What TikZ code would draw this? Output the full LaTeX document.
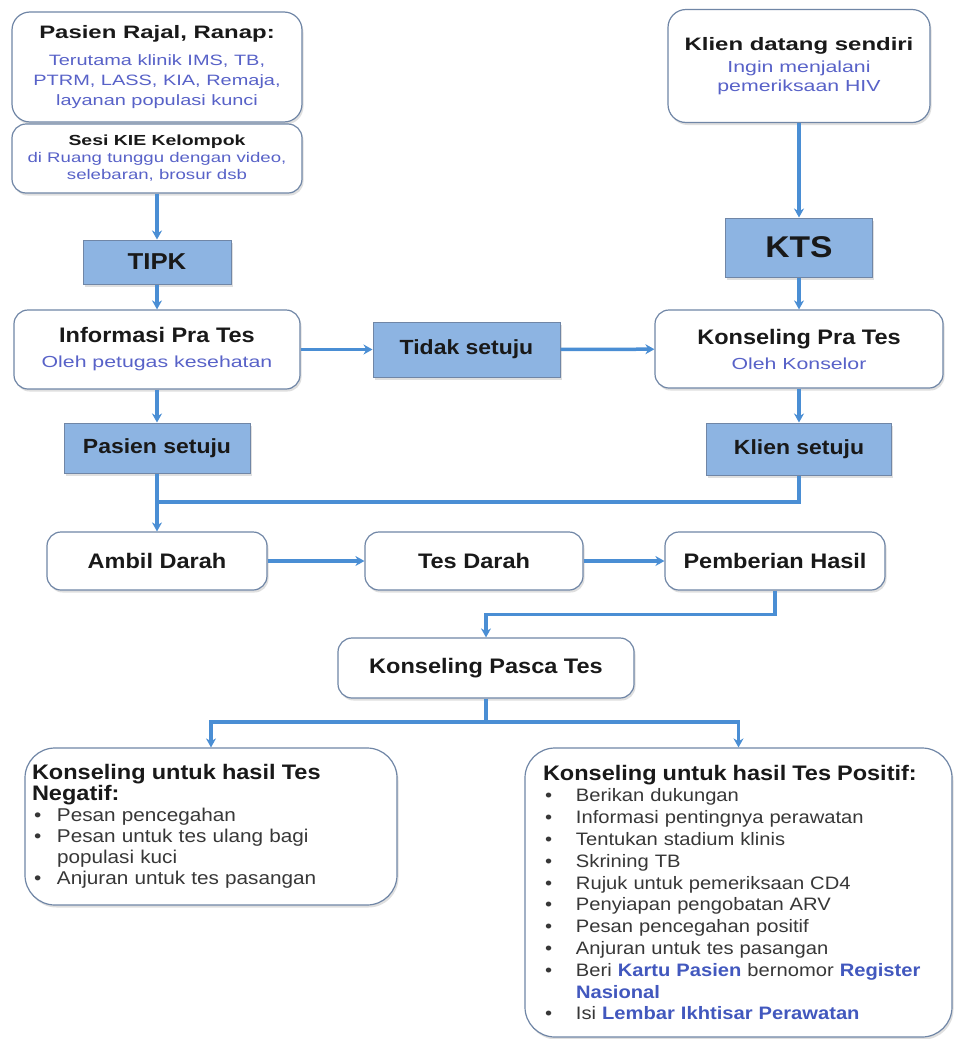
\documentclass[tikz,border=0pt]{standalone}
\usepackage{fontspec}
\setmainfont{Liberation Sans}[FakeStretch=1.12]
\newfontfamily\widefont{Liberation Sans}[FakeStretch=1.33]
\usetikzlibrary{arrows.meta, shadows}

\definecolor{flowline}{RGB}{74,142,212}
\definecolor{boxfill}{RGB}{141,180,226}
\definecolor{boxedge}{RGB}{112,134,166}
\definecolor{subblue}{RGB}{88,98,200}
\definecolor{keyblue}{RGB}{66,88,190}
\definecolor{titlecol}{RGB}{25,25,25}
\definecolor{listgray}{RGB}{55,55,55}

\newcommand{\fsz}[2]{\fontsize{#1}{#2}\selectfont}
\newcommand{\ttl}[2]{{\fsz{#1}{#1}\bfseries #2}}
\newcommand{\subtl}[1]{{\color{subblue}#1}}
\newcommand{\keyterm}[1]{{\bfseries\color{keyblue}#1}}
\newcommand{\bulletline}[2]{\makebox[#1][l]{\hspace{2pt}\textbullet}#2}

\begin{document}
\begin{tikzpicture}[
            x = 1pt, y = -1pt, % one unit = one pixel of the source
            > = {Stealth[length=9pt, width=10pt]}, % arrow head style
            semithick % line style
        ]

        \tikzstyle{roundbox}=[
            draw = boxedge,
            line width = 1.2pt,
            fill = white,
            rounded corners = 14pt,
            align = center,
            inner sep = 0pt,
            text = titlecol,
            drop shadow = {opacity = 0.25, shadow xshift = 1.5pt, shadow yshift = -2.5pt}
        ]
        \tikzstyle{bluebox}=[
            draw = boxedge,
            line width = 1pt,
            fill = boxfill,
            align = center,
            inner sep = 0pt,
            text = titlecol,
            font = \bfseries\fsz{20.5}{24},
            drop shadow = {opacity = 0.25, shadow xshift = 1.5pt, shadow yshift = -2.5pt}
        ]
        \tikzstyle{listbox}=[roundbox, rounded corners = 30pt, align = left, text = listgray]
        \tikzstyle{link}=[draw = flowline, line width = 3.5pt]

        \useasboundingbox[fill = white] (0,0) rectangle (955,1039);

        % left entry
        \node[roundbox, minimum width = 290, minimum height = 110, rounded corners = 18pt,
              font = \widefont\fsz{15}{20}] (rajal) at (157,67)
            {\ttl{18}{Pasien Rajal, Ranap:}\\[7pt]
             \subtl{Terutama klinik IMS, TB,}\\
             \subtl{PTRM, LASS, KIA, Remaja,}\\
             \subtl{layanan populasi kunci}};
        \node[roundbox, minimum width = 290, minimum height = 69,
              font = \widefont\fsz{14}{17}] (sesi) at (157,158.5)
            {\ttl{14.6}{Sesi KIE Kelompok}\\
             \subtl{di Ruang tunggu dengan video,}\\
             \subtl{selebaran, brosur dsb}};
        \node[bluebox, minimum width = 148, minimum height = 44, font = \bfseries\fsz{23}{26}] (tipk) at (157,262) {TIPK};

        % right entry
        \node[roundbox, minimum width = 262, minimum height = 113, rounded corners = 18pt,
              font = \widefont\fsz{16}{19}] (klien) at (799,66)
            {\ttl{18}{Klien datang sendiri}\\[3pt]
             \subtl{Ingin menjalani}\\
             \subtl{pemeriksaan HIV}};
        \node[bluebox, minimum width = 147, minimum height = 59, font = \bfseries\fsz{30}{34}] (kts) at (799,247.5) {KTS};

        % pre-test
        \node[roundbox, minimum width = 286, minimum height = 79, font = \fsz{16}{25}] (info) at (157,349.5)
            {\ttl{21}{Informasi Pra Tes}\\
             \widefont\subtl{Oleh petugas kesehatan}};
        \node[bluebox, minimum width = 187, minimum height = 55] (tidak) at (466.5,349.5) {Tidak setuju};
        \node[roundbox, minimum width = 288, minimum height = 78, font = \fsz{16}{25}] (konspra) at (799,349)
            {\ttl{21}{Konseling Pra Tes}\\
             \widefont\subtl{Oleh Konselor}};
        \node[bluebox, minimum width = 186, minimum height = 50] (pasiensetuju) at (157,448) {Pasien setuju};
        \node[bluebox, minimum width = 185, minimum height = 52] (kliensetuju) at (799,449) {Klien setuju};

        % test
        \node[roundbox, minimum width = 220, minimum height = 58, font = \bfseries\fsz{21}{24}] (ambil) at (157,561) {Ambil Darah};
        \node[roundbox, minimum width = 218, minimum height = 58, font = \bfseries\fsz{21}{24}] (tes) at (474,561) {Tes Darah};
        \node[roundbox, minimum width = 220, minimum height = 58, font = \bfseries\fsz{21}{24}] (hasil) at (775,561) {Pemberian Hasil};
        \node[roundbox, minimum width = 296, minimum height = 60, font = \bfseries\fsz{21}{24}] (pasca) at (486,668) {Konseling Pasca Tes};

        % post-test counselling
        \node[listbox, minimum width = 372, minimum height = 157, text width = 358, inner xsep = 7pt,
              font = \fsz{18.5}{21}] (negatif) at (211,826.5)
            {{\fsz{21}{21}\bfseries\color{titlecol}Konseling untuk hasil Tes}\\
             {\fsz{21}{21}\bfseries\color{titlecol}Negatif:}\\
             \bulletline{25pt}{Pesan pencegahan}\\
             \bulletline{25pt}{Pesan untuk tes ulang bagi}\\
             \hspace*{25pt}populasi kuci\\
             \bulletline{25pt}{Anjuran untuk tes pasangan}};
        \node[listbox, minimum width = 427, minimum height = 289, text width = 391, inner xsep = 18pt,
              font = \fsz{18}{21.8}] (positif) at (738.5,892.5)
            {{\fsz{21}{21}\bfseries\color{titlecol}Konseling untuk hasil Tes Positif:}\\
             \bulletline{33pt}{Berikan dukungan}\\
             \bulletline{33pt}{Informasi pentingnya perawatan}\\
             \bulletline{33pt}{Tentukan stadium klinis}\\
             \bulletline{33pt}{Skrining TB}\\
             \bulletline{33pt}{Rujuk untuk pemeriksaan CD4}\\
             \bulletline{33pt}{Penyiapan pengobatan ARV}\\
             \bulletline{33pt}{Pesan pencegahan positif}\\
             \bulletline{33pt}{Anjuran untuk tes pasangan}\\
             \bulletline{33pt}{Beri \keyterm{Kartu Pasien} bernomor \keyterm{Register}}\\
             \hspace*{33pt}\keyterm{Nasional}\\
             \bulletline{33pt}{Isi \keyterm{Lembar Ikhtisar Perawatan}}};

        % connectors
        \draw[link, ->] (sesi) -- (tipk);
        \draw[link, ->] (tipk) -- (info);
        \draw[link, ->] (klien) -- (kts);
        \draw[link, ->] (kts) -- (konspra);
        \draw[link, ->] (info) -- (tidak);
        \draw[link, ->] (tidak) -- (konspra);
        \draw[link, ->] (info) -- (pasiensetuju);
        \draw[link, ->] (konspra) -- (kliensetuju);
        \coordinate (gabung) at (157,502);
        \draw[link] (kliensetuju) |- (gabung);
        \draw[link, ->] (pasiensetuju) -- (ambil);
        \draw[link, ->] (ambil) -- (tes);
        \draw[link, ->] (tes) -- (hasil);
        \draw[link, ->] (hasil.south) -- ++(0,24) -| (pasca.north);
        \coordinate (cabang) at (486,722);
        \draw[link, ->] (pasca) -- (cabang) -| (negatif.north);
        \draw[link, ->] (cabang) -| (positif.north);
    \end{tikzpicture}
\end{document}
